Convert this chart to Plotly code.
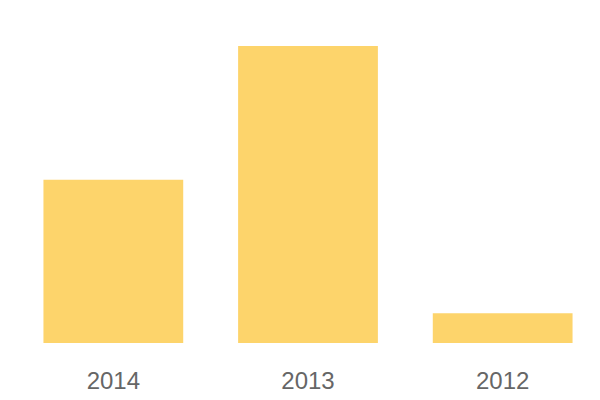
import plotly.graph_objects as go

categories = ["2014", "2013", "2012"]
values = [11, 20, 2]

fig = go.Figure(go.Bar(
    x=categories, y=values,
    marker=dict(color="#FDD46B", line=dict(width=0)),
    hoverinfo="x+y",
))
fig.update_layout(
    width=600, height=400,
    margin=dict(l=8, r=8, t=38, b=65, autoexpand=False),
    paper_bgcolor="white", plot_bgcolor="white",
    bargap=0.282,
    showlegend=False,
    font=dict(family="Liberation Sans, Arial, sans-serif", size=24, color="#666666"),
)
fig.update_xaxes(showgrid=False, showline=False, zeroline=False, ticks="",
                 ticklabelstandoff=21, tickfont=dict(size=24, color="#666666"))
fig.update_yaxes(visible=False, range=[0, 20], showgrid=False, zeroline=False)
fig.write_html("out.html")
